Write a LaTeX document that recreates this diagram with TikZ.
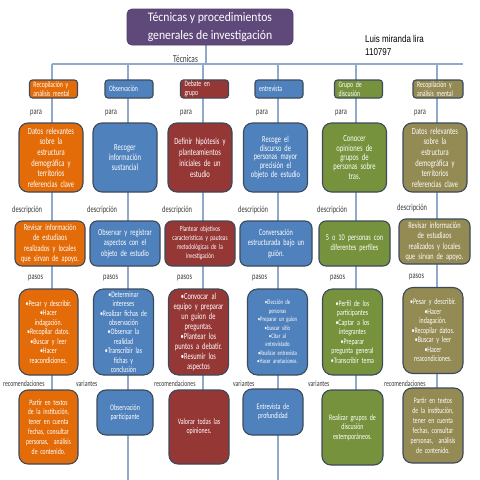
\documentclass[tikz,border=0pt]{standalone}
\usepackage{fontspec}
\setmainfont{Carlito}
\newfontfamily\cb[FakeStretch=0.7]{Carlito}
\newfontfamily\ct[FakeStretch=0.9]{Carlito}
\newfontfamily\ca[FakeStretch=0.8]{Liberation Sans}
\newcommand\setfs[2]{\fontsize{#1}{#2}\selectfont\spaceskip=0.15em plus 0.05em minus 0.03em\relax}
\definecolor{cor}{HTML}{E36C09}
\definecolor{cbl}{HTML}{4F81BD}
\definecolor{cre}{HTML}{953735}
\definecolor{cgr}{HTML}{76923C}
\definecolor{coli}{HTML}{948A54}
\definecolor{cpu}{HTML}{5F497A}
\definecolor{bd}{HTML}{3C4A5C}
\definecolor{lnc}{HTML}{8FAACC}
\definecolor{lt}{HTML}{3A3A3A}
\pgfdeclarelayer{bgzero}
\pgfdeclarelayer{bgone}
\pgfsetlayers{bgzero,bgone,main}
\tikzset{
 bx/.style={draw=bd, line width=1.1pt, text=white, align=center, inner xsep=2pt, inner ysep=1pt},
 topbox/.style={bx, rounded corners=3pt, minimum height=18pt, text width=40pt, inner xsep=4pt, align=left, font=\cb\setfs{8.2}{9}},
 mainbox/.style={bx, rounded corners=9pt, minimum height=69pt, text width=60pt, font=\cb\setfs{9.4}{10.6}},
 descbox/.style={bx, rounded corners=7pt, minimum height=45pt, text width=66pt, font=\cb\setfs{9}{10.3}},
 stepbox/.style={bx, rounded corners=10pt, minimum height=86pt, text width=56pt, font=\cb\setfs{8.4}{9.5}},
 botbox/.style={bx, rounded corners=9pt, text width=56pt, font=\cb\setfs{8.2}{9.9}},
 lbl/.style={anchor=west, inner sep=0pt, text=lt, font=\cb\setfs{9.2}{10}},
 blbl/.style={lbl, font=\cb\setfs{8.2}{9}},
 conn/.style={draw=lnc, line width=1.2pt},
}
\begin{document}
\begin{tikzpicture}[x=1pt,y=-1pt]
\useasboundingbox (0,0) rectangle (480,480);
\begin{pgfonlayer}{bgzero}
\fill[white] (0,0) rectangle (480,480);
\end{pgfonlayer}

% title and author
\node[fill=cpu, draw=cpu!85!black, line width=0.8pt, rounded corners=5pt, minimum width=166pt, minimum height=36pt, text=white, align=center, inner sep=1pt, font=\ct\fontsize{13}{17.5}\selectfont] (title) at (210,27) {Técnicas y procedimientos\\generales de investigación};
\node[anchor=west, align=left, inner sep=0pt, font=\ca\fontsize{10}{12.4}\selectfont] (author) at (365,45.5) {Luis miranda lira\\110797};
\node[lbl, font=\cb\setfs{10.5}{11}] (tec) at (173,59) {Técnicas};

% coordinates
\coordinate (hl) at (206,64);
\coordinate (h0) at (52,64);
\coordinate (h1) at (463,64);
\coordinate (k1) at (52,64);
\coordinate (k2) at (128,64);
\coordinate (k3) at (203,64);
\coordinate (k4) at (278,64);
\coordinate (k5) at (356,64);
\coordinate (k6) at (437,64);
\coordinate (e2) at (128,480);
\coordinate (e4) at (278,480);

% top boxes
\node[topbox, fill=cor] (a1) at (53.5,89) {Recopilación y\\análisis mental};
\node[topbox, fill=cbl] (a2) at (129,89) {Observación};
\node[topbox, fill=cre] (a3) at (204.5,89) {Debate en\\grupo};
\node[topbox, fill=cbl] (a4) at (279,89) {entrevista};
\node[topbox, fill=cgr] (a5) at (358.5,89) {Grupo de\\discusión};
\node[topbox, fill=coli, text width=42pt] (a6) at (438,89) {Recopilación y\\análisis mental};

% para labels
\node[lbl] (p1) at (30,113) {para};
\node[lbl] (p2) at (105,113) {para};
\node[lbl] (p3) at (180,113) {para};
\node[lbl] (p4) at (256,113) {para};
\node[lbl] (p5) at (335,113) {para};
\node[lbl] (p6) at (414,113) {para};

% main boxes
\node[mainbox, fill=cor] (m1) at (51,157.5) {Datos relevantes\\sobre la\\estructura\\demográfica y\\territorios\\referencias clave};
\node[mainbox, fill=cbl, font=\cb\setfs{9.4}{10}] (m2) at (125,157.5) {Recoger\\información\\sustancial};
\node[mainbox, fill=cre, font=\cb\setfs{9.4}{10.9}] (m3) at (200,157.5) {Definir hipótesis y\\planteamientos\\iniciales de un\\estudio};
\node[mainbox, fill=cbl, font=\cb\setfs{9.2}{8.9}] (m4) at (275.5,157.5) {Recoge el\\discurso de\\personas mayor\\precisión el\\objeto de estudio};
\node[mainbox, fill=cgr, font=\cb\setfs{9.4}{9.4}] (m5) at (354.5,157.5) {Conocer\\opiniones de\\grupos de\\personas sobre\\tras.};
\node[mainbox, fill=coli] (m6) at (435,157.5) {Datos relevantes\\sobre la\\estructura\\demográfica y\\territorios\\referencias clave};

% descripcion labels
\node[lbl] (d1) at (12,210) {descripción};
\node[lbl] (d2) at (87,210) {descripción};
\node[lbl] (d3) at (162,210) {descripción};
\node[lbl] (d4) at (238,210) {descripción};
\node[lbl] (d5) at (317,210) {descripción};
\node[lbl] (d6) at (397,208) {descripción};

% description boxes
\node[descbox, fill=cor] (r1) at (50,243.5) {Revisar información\\de estudiaos\\realizados y locales\\que sirvan de apoyo.};
\node[descbox, fill=cbl] (r2) at (125,243.5) {Observar y registrar\\aspectos con el\\objeto de estudio};
\node[descbox, fill=cre, font=\cb\setfs{7.6}{9}] (r3) at (200,243.5) {Plantear objetivos\\características y pauteas\\metodológicas de la\\investigación};
\node[descbox, fill=cbl, text width=68pt] (r4) at (276,243.5) {Conversación\\estructurada bajo un\\guión.};
\node[descbox, fill=cgr, text width=67pt] (r5) at (354.5,243.5) {5 o 10 personas con\\diferentes perfiles};
\node[descbox, fill=coli, text width=67pt] (r6) at (434.5,241.5) {Revisar información\\de estudiaos\\realizados y locales\\que sirvan de apoyo.};

% pasos labels
\node[lbl] (s1) at (28,278) {pasos};
\node[lbl] (s2) at (103,278) {pasos};
\node[lbl] (s3) at (177,278) {pasos};
\node[lbl] (s4) at (252,278) {pasos};
\node[lbl] (s5) at (330,278) {pasos};
\node[lbl] (s6) at (409,277) {pasos};

% steps boxes
\node[stepbox, fill=cor, text width=55pt] (q1) at (48.5,332) {•Pesar y describir.\\•Hacer\\indagación.\\•Recopilar datos.\\•Buscar y leer\\•Hacer\\reacondiciones.};
\node[stepbox, fill=cbl, font=\cb\setfs{8.4}{9.4}] (q2) at (123.5,332) {•Determinar\\intereses\\•Realizar fichas de\\observación\\•Observar la\\realidad\\•Transcribir las\\fichas y\\conclusión};
\node[stepbox, fill=cre, font=\cb\setfs{9.2}{9.9}] (q3) at (198.5,332) {•Convocar al\\equipo y preparar\\un guion de\\preguntas.\\•Plantear los\\puntos a debatir.\\•Resumir los\\aspectos};
\node[stepbox, fill=cbl, font=\cb\setfs{6.8}{8.4}] (q4) at (277.5,332) {•Elección de\\personas\\•Preparar un guion\\•buscar sitio\\•Citar al\\entrevistado\\•Realizar entrevista\\•Hacer anotaciones.};
\node[stepbox, fill=cgr] (q5) at (352.5,332) {•Perfil de los\\participantes\\•Captar a los\\integrantes\\•Preparar\\pregunta general\\•Transcribir tema};
\node[stepbox, fill=coli] (q6) at (433,330.5) {•Pesar y describir.\\•Hacer\\indagación.\\•Recopilar datos.\\•Buscar y leer\\•Hacer\\reacondiciones.};

% bottom labels
\node[blbl] (g1) at (3,384) {recomendaciones};
\node[blbl] (g2) at (76,384) {variantes};
\node[blbl] (g3) at (154,384) {recomendaciones};
\node[blbl] (g4) at (233,384) {variantes};
\node[blbl] (g5) at (308,384) {variantes};
\node[blbl] (g6) at (384,384) {recomendaciones};

% bottom boxes
\node[botbox, fill=cor, text width=55pt, minimum height=74pt] (b1) at (48.5,427) {Partir en textos\\de la institución,\\tener en cuenta\\fechas, consultar\\personas,~ análisis\\de contenido.};
\node[botbox, fill=cbl, text width=52pt, minimum height=45pt, font=\cb\setfs{8.4}{8.6}] (b2) at (125,412.5) {Observación\\participante};
\node[botbox, fill=cre, minimum height=74pt, font=\cb\setfs{8.4}{8.6}] (b3) at (199,427) {Valorar todas las\\opiniones.};
\node[botbox, fill=cbl, minimum height=46pt, font=\cb\setfs{8.4}{8.6}] (b4) at (273,412) {Entrevista de\\profundidad};
\node[botbox, fill=cgr, text width=57pt, minimum height=75pt, font=\cb\setfs{8.4}{9.5}] (b5) at (352.5,427.5) {Realizar grupos de\\discusión\\extemporáneos.};
\node[botbox, fill=coli, minimum height=75pt] (b6) at (433,425.5) {Partir en textos\\de la institución,\\tener en cuenta\\fechas, consultar\\personas,~ análisis\\de contenido.};

% connectors
\begin{pgfonlayer}{bgone}
\draw[conn] (title.south -| hl) -- (hl);
\draw[conn] (h0) -- (h1);
\draw[conn] (k1) -- (k1 |- b1.center);
\draw[conn] (k2) -- (e2);
\draw[conn] (k3) -- (k3 |- b3.center);
\draw[conn] (k4) -- (e4);
\draw[conn] (k5) -- (k5 |- b5.center);
\draw[conn] (k6) -- (k6 |- b6.center);
\end{pgfonlayer}
\end{tikzpicture}
\end{document}
